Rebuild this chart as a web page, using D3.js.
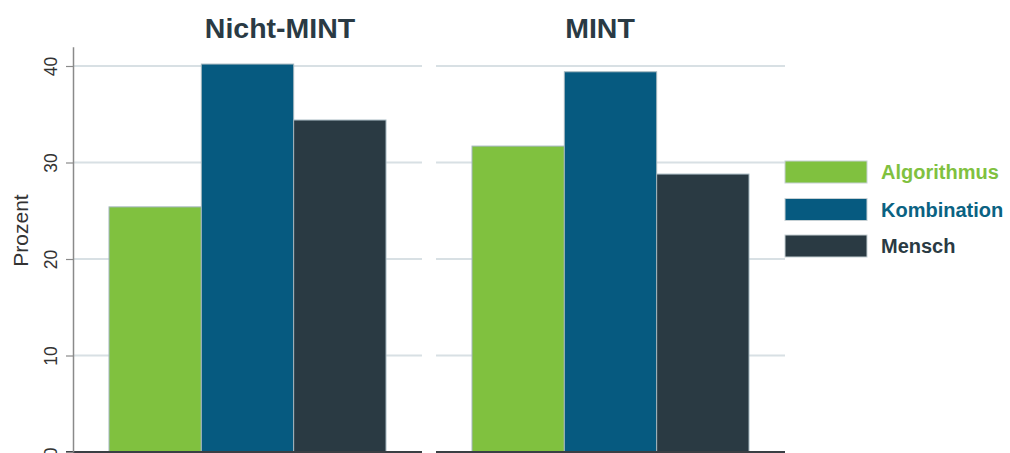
<!DOCTYPE html>
<html lang="de">
<head>
<meta charset="utf-8">
<title>Nicht-MINT / MINT</title>
<script src="https://cdn.jsdelivr.net/npm/d3@7"></script>
<style>
    body { margin: 0; background: #fff; }
    svg { display: block; font-family: "Liberation Sans", Arial, sans-serif; }
</style>
</head>
<body>
<script>
    // data
    var panels = ["Nicht-MINT", "MINT"];
    var categories = ["Algorithmus", "Kombination", "Mensch"];
    var nichtMint = [25.4, 40.2, 34.4];
    var mint = [31.7, 39.4, 28.8];
    var yTicks = [0, 10, 20, 30, 40];
    var colors = ["#80c13f", "#065a80", "#2a3a43"];
    var legendText = ["#80c13f", "#0a6282", "#2a3a43"];

    var values = { "Nicht-MINT": nichtMint, "MINT": mint };

    var width = 1010, height = 453;
    var axisX = 73;
    var titleX = [280, 600];

    var svg = d3.select("body").append("svg")
        .attr("width", width)
        .attr("height", height);

    var y = d3.scaleLinear()
        .domain([0, 42])
        .range([452, 452 - 42 * 9.65]);

    var xPanel = d3.scaleBand()
        .domain(panels)
        .range([axisX, 785])
        .paddingInner(0.0386);

    var xCat = d3.scaleBand()
        .domain(categories)
        .range([0, xPanel.bandwidth()])
        .paddingInner(0)
        .paddingOuter(0.39);

    // panels
    var panel = svg.selectAll("g.panel")
        .data(panels)
        .enter()
        .append("g")
        .attr("class", "panel")
        .attr("transform", function (d) { return "translate(" + xPanel(d) + ",0)"; });

    // grid lines
    panel.selectAll("line.grid")
        .data(yTicks.filter(function (t) { return t > 0; }))
        .enter()
        .append("line")
        .attr("x1", 0)
        .attr("x2", xPanel.bandwidth())
        .attr("y1", function (d) { return y(d); })
        .attr("y2", function (d) { return y(d); })
        .attr("stroke", "#d8e0e4")
        .attr("stroke-width", 2);

    // bars
    panel.selectAll("rect")
        .data(function (p) {
            return categories.map(function (c, i) { return { cat: c, v: values[p][i], i: i }; });
        })
        .enter()
        .append("rect")
        .attr("x", function (d) { return xCat(d.cat); })
        .attr("y", function (d) { return y(d.v); })
        .attr("width", xCat.bandwidth())
        .attr("height", function (d) { return y(0) - y(d.v); })
        .attr("fill", function (d) { return colors[d.i]; })
        .attr("stroke", "#a3b6be")
        .attr("stroke-width", 1);

    // baseline
    panel.append("line")
        .attr("x1", function (d, i) { return i === 0 ? -7 : 0; })
        .attr("x2", xPanel.bandwidth())
        .attr("y1", y(0))
        .attr("y2", y(0))
        .attr("stroke", "#3a3f44")
        .attr("stroke-width", 2);

    // titles
    svg.selectAll("text.title")
        .data(panels)
        .enter()
        .append("text")
        .attr("class", "title")
        .attr("x", function (d, i) { return titleX[i]; })
        .attr("y", 37.5)
        .attr("text-anchor", "middle")
        .attr("font-size", "28.5px")
        .attr("font-weight", "bold")
        .attr("fill", "#2a3a44")
        .text(function (d) { return d; });

    // y axis
    var yAxis = d3.axisLeft(y)
        .tickValues(yTicks)
        .tickSize(7)
        .tickSizeOuter(0);

    var gy = svg.append("g")
        .attr("transform", "translate(" + axisX + ",0)")
        .call(yAxis);

    gy.select(".domain").attr("stroke", "#8a8a8a").attr("stroke-width", 1.5);
    gy.selectAll(".tick line").attr("stroke", "#8a8a8a").attr("stroke-width", 1.2);
    gy.selectAll(".tick text")
        .attr("x", 0)
        .attr("y", -16)
        .attr("dy", 0)
        .attr("text-anchor", "middle")
        .attr("transform", "rotate(-90)")
        .attr("font-size", "17.5px")
        .attr("font-family", "Liberation Sans, Arial, sans-serif")
        .attr("fill", "#333");

    svg.append("text")
        .attr("transform", "translate(28,230.5) rotate(-90)")
        .attr("text-anchor", "middle")
        .attr("font-size", "21px")
        .attr("fill", "#333")
        .text("Prozent");

    // legend
    var legend = svg.selectAll("g.legend")
        .data(categories)
        .enter()
        .append("g")
        .attr("class", "legend")
        .attr("transform", function (d, i) { return "translate(785," + [161, 198.5, 235][i] + ")"; });

    legend.append("rect")
        .attr("width", 82)
        .attr("height", 22)
        .attr("fill", function (d, i) { return colors[i]; })
        .attr("stroke", "#c5d0d4")
        .attr("stroke-width", 1);

    legend.append("text")
        .attr("x", 96)
        .attr("y", 18)
        .attr("font-size", "20px")
        .attr("font-weight", "bold")
        .attr("fill", function (d, i) { return legendText[i]; })
        .text(function (d) { return d; });
</script>
</body>
</html>
